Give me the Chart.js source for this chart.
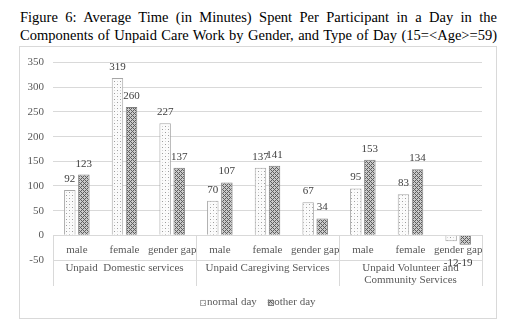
<!DOCTYPE html>
<html>
<head>
<meta charset="utf-8">
<script src="https://cdn.jsdelivr.net/npm/chart.js@4/dist/chart.umd.min.js"></script>
<style>
  html, body { margin: 0; padding: 0; background: #fff; }
  body { width: 514px; height: 326px; position: relative; overflow: hidden; }
  #title {
    position: absolute; left: 20px; top: 8px; width: 477px;
    font-family: 'Liberation Serif', 'Times New Roman', serif;
    font-size: 14.5px; line-height: 18px; color: #000;
    text-align: justify; text-align-last: justify; white-space: nowrap;
  }
  #frame {
    position: absolute; left: 19px; top: 46px; width: 478px; height: 273px;
    border: 1px solid #d9d9d9; box-sizing: border-box;
  }
  #wrap { position: absolute; left: 0; top: 0; width: 476px; height: 271px; }
</style>
</head>
<body>
<div id="title">Figure 6: Average Time (in Minutes) Spent Per Participant in a Day in the<br>Components of Unpaid Care Work by Gender, and Type of Day (15=&lt;Age&gt;=59)</div>
<div id="frame"><div id="wrap"><canvas id="c"></canvas></div></div>
<script>
// ---- data ----
const subCategories = ['male', 'female', 'gender gap', 'male', 'female', 'gender gap', 'male', 'female', 'gender gap'];
const groupLabels = [['Unpaid  Domestic services'], ['Unpaid Caregiving Services'], ['Unpaid Volunteer and', 'Community Services']];
const groupSize = 3;
const seriesNames = ['normal day', 'other day'];
const normalDay = [92, 319, 227, 70, 137, 67, 95, 83, -12];
const otherDay = [123, 260, 137, 107, 141, 34, 153, 134, -19];
const yMin = -50, yMax = 350, yStep = 50;

// ---- patterns ----
const ctx0 = document.getElementById('c').getContext('2d');
const dotPattern = (function () {
  const c = document.createElement('canvas'); c.width = 6; c.height = 6;
  const g = c.getContext('2d');
  g.fillStyle = '#fbfbfb'; g.fillRect(0, 0, 6, 6);
  g.fillStyle = '#9c9c9c'; g.fillRect(1, 1, 1, 1); g.fillRect(4, 4, 1, 1);
  g.fillStyle = '#d6d6d6'; g.fillRect(4, 1, 1, 1); g.fillRect(1, 4, 1, 1);
  return ctx0.createPattern(c, 'repeat');
})();
const hatchPattern = (function () {
  const c = document.createElement('canvas'); c.width = 4; c.height = 4;
  const g = c.getContext('2d');
  g.fillStyle = '#cacaca'; g.fillRect(0, 0, 4, 4);
  g.fillStyle = '#5e5e5e';
  for (let px = 0; px < 4; px++) for (let py = 0; py < 4; py++) {
    if ((px + py) % 4 === 0 || (px - py + 4) % 4 === 0) g.fillRect(px, py, 1, 1);
  }
  return ctx0.createPattern(c, 'repeat');
})();

const FONT = "'Liberation Serif', 'Times New Roman', serif";
const TXT = '#595959';

const overlay = {
  id: 'overlay',
  afterDatasetsDraw(chart) {
    const { ctx } = chart;
    ctx.save();
    ctx.font = '11px ' + FONT;
    ctx.fillStyle = '#404040';
    ctx.textAlign = 'center';
    ctx.textBaseline = 'middle';
    chart.data.datasets.forEach((ds, di) => {
      const meta = chart.getDatasetMeta(di);
      meta.data.forEach((el, i) => {
        const v = ds.data[i];
        const ty = v >= 0 ? el.y - 11 : el.base + 27;
        ctx.fillText(String(v), el.x, ty);
      });
    });
    ctx.restore();
  },
  afterDraw(chart) {
    const { ctx, chartArea, scales, width } = chart;
    const y = scales.y;
    const y0 = Math.round(y.getPixelForValue(0));
    const n = subCategories.length;
    const w = (chartArea.right - chartArea.left) / n;
    ctx.save();
    ctx.strokeStyle = '#d9d9d9';
    ctx.lineWidth = 1;
    for (let k = 0; k <= n / groupSize; k++) {
      const px = Math.round(chartArea.left + k * groupSize * w) + 0.5;
      ctx.beginPath(); ctx.moveTo(px, y0); ctx.lineTo(px, y0 + 51); ctx.stroke();
    }
    ctx.font = '11px ' + FONT;
    ctx.fillStyle = TXT;
    ctx.textAlign = 'center';
    ctx.textBaseline = 'middle';
    groupLabels.forEach((lines, g) => {
      const cx = chartArea.left + (g * groupSize + groupSize / 2) * w;
      lines.forEach((ln, li) => ctx.fillText(ln, cx, y0 + 33 + li * 12.5));
    });
    // legend
    const box = 5, gap = 1.5, between = 11;
    const items = chart.data.datasets.map(ds => ({ label: ds.label, fill: ds.backgroundColor, stroke: ds.borderColor, tw: ctx.measureText(ds.label).width }));
    let total = 0;
    items.forEach((it, i) => { total += box + gap + it.tw + (i ? between : 0); });
    let cx = width / 2 - total / 2;
    const ly = 255;
    ctx.textAlign = 'left';
    items.forEach((it, i) => {
      if (i) cx += between;
      ctx.fillStyle = it.fill;
      ctx.fillRect(cx, ly - box / 2, box, box);
      ctx.strokeStyle = it.stroke;
      ctx.strokeRect(Math.round(cx) + 0.5, Math.round(ly - box / 2) + 0.5, box, box);
      cx += box + gap;
      ctx.fillStyle = TXT;
      ctx.fillText(it.label, cx, ly + 0.5);
      cx += it.tw;
    });
    ctx.restore();
  }
};

new Chart(document.getElementById('c'), {
  type: 'bar',
  data: {
    labels: subCategories,
    datasets: [
      { label: seriesNames[0], data: normalDay, backgroundColor: dotPattern, borderColor: '#a6a6a6', borderWidth: 1 },
      { label: seriesNames[1], data: otherDay, backgroundColor: hatchPattern, borderColor: '#7f7f7f', borderWidth: 1 }
    ]
  },
  options: {
    responsive: true,
    maintainAspectRatio: false,
    animation: false,
    devicePixelRatio: 1,
    layout: { padding: { left: 0, top: 14, right: 14, bottom: 58 } },
    datasets: { bar: { categoryPercentage: 0.59, barPercentage: 0.815 } },
    plugins: { legend: { display: false }, tooltip: { enabled: false }, title: { display: false } },
    scales: {
      x: {
        position: { y: 0 },
        grid: { display: false, drawTicks: false },
        border: { display: false },
        ticks: { color: TXT, font: { family: FONT, size: 11 }, padding: 8, maxRotation: 0, autoSkip: false }
      },
      y: {
        min: yMin, max: yMax,
        grid: { color: '#d9d9d9', lineWidth: 1, drawTicks: false },
        border: { display: false },
        ticks: { stepSize: yStep, color: TXT, font: { family: FONT, size: 11 }, padding: 9 },
        afterFit(scale) { scale.width = 33; }
      }
    }
  },
  plugins: [overlay]
});
</script>
</body>
</html>
